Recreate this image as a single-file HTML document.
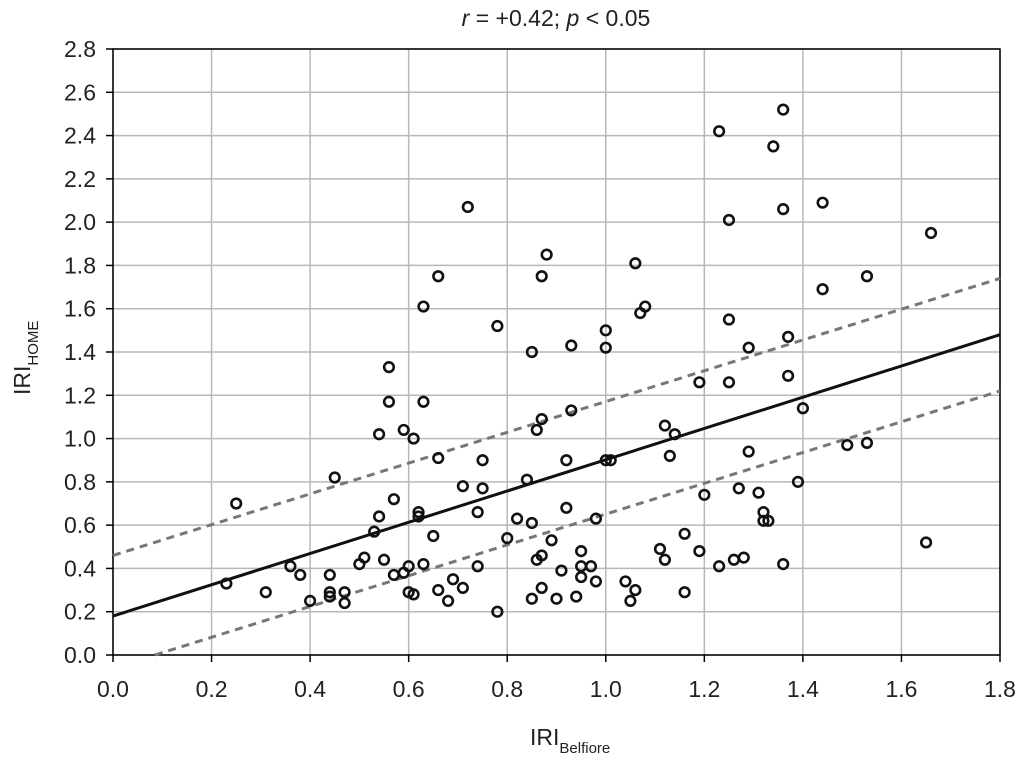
<!DOCTYPE html>
<html><head><meta charset="utf-8"><style>
body{margin:0;background:#fff}
svg text{font-family:"Liberation Sans",sans-serif;fill:#222}
</style></head><body>
<svg id="chart" width="1020" height="761" xmlns="http://www.w3.org/2000/svg"></svg>
<script>
const xTicks=["0.0","0.2","0.4","0.6","0.8","1.0","1.2","1.4","1.6","1.8"];
const yTicks=["0.0","0.2","0.4","0.6","0.8","1.0","1.2","1.4","1.6","1.8","2.0","2.2","2.4","2.6","2.8"];
const xs=[1.23,1.25,1.25,1.25,1.34,1.36,1.36,1.37,1.37,1.44,1.44,1.53,1.66,1.65,1.40,1.39,1.49,1.53,1.29,1.29,1.27,1.31,1.32,1.32,1.33,1.36,1.28,1.26,1.23,1.20,1.19,1.19,1.16,1.16,1.14,1.13,1.12,1.11,1.12,1.08,1.07,1.06,1.06,1.04,1.05,1.00,1.00,1.00,1.01,0.98,0.98,0.97,0.95,0.95,0.95,0.94,0.93,0.93,0.92,0.92,0.91,0.90,0.89,0.88,0.87,0.87,0.86,0.85,0.87,0.87,0.85,0.86,0.85,0.84,0.82,0.80,0.78,0.78,0.75,0.75,0.74,0.74,0.72,0.71,0.71,0.69,0.68,0.66,0.66,0.65,0.66,0.63,0.63,0.63,0.62,0.62,0.61,0.60,0.60,0.61,0.59,0.59,0.57,0.57,0.56,0.56,0.54,0.54,0.55,0.53,0.51,0.50,0.45,0.47,0.47,0.44,0.44,0.44,0.40,0.38,0.36,0.31,0.25,0.23];
const ys=[2.42,2.01,1.55,1.26,2.35,2.52,2.06,1.47,1.29,2.09,1.69,1.75,1.95,0.52,1.14,0.80,0.97,0.98,1.42,0.94,0.77,0.75,0.66,0.62,0.62,0.42,0.45,0.44,0.41,0.74,1.26,0.48,0.29,0.56,1.02,0.92,1.06,0.49,0.44,1.61,1.58,1.81,0.30,0.34,0.25,1.50,1.42,0.90,0.90,0.63,0.34,0.41,0.48,0.41,0.36,0.27,1.43,1.13,0.90,0.68,0.39,0.26,0.53,1.85,1.75,1.09,1.04,1.40,0.46,0.31,0.61,0.44,0.26,0.81,0.63,0.54,1.52,0.20,0.90,0.77,0.66,0.41,2.07,0.78,0.31,0.35,0.25,1.75,0.91,0.55,0.30,1.61,1.17,0.42,0.66,0.64,1.00,0.41,0.29,0.28,1.04,0.38,0.72,0.37,1.33,1.17,1.02,0.64,0.44,0.57,0.45,0.42,0.82,0.29,0.24,0.37,0.29,0.27,0.25,0.37,0.41,0.29,0.70,0.33];
const fitX=[0,1.8], fitY=[0.18,1.48];
const upX=[0,1.8], upY=[0.46,1.74];
const loX=[0.085,1.8], loY=[0,1.22];

const NS="http://www.w3.org/2000/svg", svg=document.getElementById('chart');
const L=113,R=1000,T=49,B=655;
const sx=v=>L+(v-0)/1.8*(R-L), sy=v=>B-(v/2.8)*(B-T);
function mk(t,a,p){const e=document.createElementNS(NS,t);for(const k in a)e.setAttribute(k,a[k]);(p||svg).appendChild(e);return e;}
const grid=mk('g',{});


xTicks.forEach(t=>{const x=sx(+t);mk('line',{x1:x,x2:x,y1:T,y2:B,stroke:'#b8b8b8','stroke-width':1.5},grid);
 const tx=mk('text',{x:x,y:697,'text-anchor':'middle','font-size':23},grid);tx.textContent=t;
 
 });
yTicks.forEach(t=>{const y=sy(+t);mk('line',{x1:L,x2:R,y1:y,y2:y,stroke:'#b8b8b8','stroke-width':1.5},grid);
 mk('line',{x1:L-7,x2:L,y1:y,y2:y,stroke:'#000','stroke-width':1.5},grid);
 const tx=mk('text',{x:96,y:y+8,'text-anchor':'end','font-size':23},grid);tx.textContent=t;
 
 });
xTicks.forEach(t=>mk('line',{x1:sx(+t),x2:sx(+t),y1:B,y2:B+7,stroke:'#000','stroke-width':1.5},grid));
const frame=mk('rect',{x:L,y:T,width:R-L,height:B-T,fill:'none',stroke:'#000','stroke-width':1.5});


function line(X,Y,dash,name){const e=mk('line',{x1:sx(X[0]),y1:sy(Y[0]),x2:sx(X[1]),y2:sy(Y[1]),stroke:dash?'#777':'#111','stroke-width':3,'stroke-dasharray':dash?'8,6':'none'});
 
 }
line(upX,upY,true,'upper-confidence-band');
line(loX,loY,true,'lower-confidence-band');
line(fitX,fitY,false,'regression-line');
const pts=mk('g',{});


xs.forEach((x,i)=>{const c=mk('circle',{cx:sx(x),cy:sy(ys[i]),r:4.8,fill:'none',stroke:'#111','stroke-width':2.6},pts);
 
 });
const title=mk('text',{x:556,y:26,'text-anchor':'middle','font-size':23,'font-style':'italic'});
title.innerHTML='r <tspan font-style="normal">= +0.42;</tspan> p <tspan font-style="normal">&lt; 0.05</tspan>';


const xl=mk('text',{x:530,y:745,'font-size':23});
xl.innerHTML='IRI<tspan font-size="15" dy="8">Belfiore</tspan>';


const yl=mk('text',{x:0,y:0,'font-size':23,transform:'translate(30,395) rotate(-90)'});
yl.innerHTML='IRI<tspan font-size="15" dy="8">HOME</tspan>';


</script>
</body></html>
